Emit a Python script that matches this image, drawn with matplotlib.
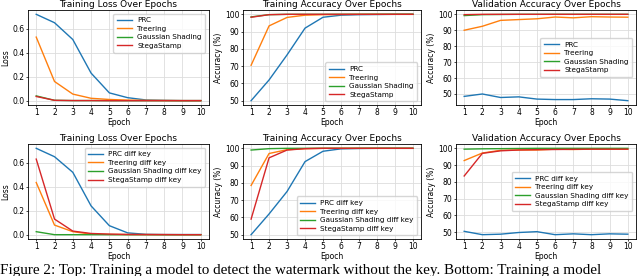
import numpy as np
import matplotlib
matplotlib.use('Agg')
import matplotlib.pyplot as plt

epochs = np.arange(1, 11)
methods = ['PRC', 'Treering', 'Gaussian Shading', 'StegaStamp']
colors = ['#1f77b4', '#ff7f0e', '#2ca02c', '#d62728']

# top row: trained without the key
loss_top = [
    [0.72, 0.65, 0.51, 0.23, 0.065, 0.025, 0.006, 0.003, 0.001, 0.001],
    [0.53, 0.16, 0.055, 0.02, 0.01, 0.005, 0.003, 0.002, 0.001, 0.001],
    [0.04, 0.003, 0.001, 0.001, 0.0, 0.0, 0.0, 0.0, 0.0, 0.0],
    [0.035, 0.003, 0.001, 0.001, 0.0, 0.0, 0.0, 0.0, 0.0, 0.0],
]
tacc_top = [
    [50.0, 62.0, 76.5, 92.0, 98.3, 99.5, 99.8, 99.9, 100.0, 100.0],
    [70.5, 93.3, 98.2, 99.5, 99.8, 99.9, 100.0, 100.0, 100.0, 100.0],
    [98.5, 99.8, 100.0, 100.0, 100.0, 100.0, 100.0, 100.0, 100.0, 100.0],
    [98.3, 99.8, 100.0, 100.0, 100.0, 100.0, 100.0, 100.0, 100.0, 100.0],
]
vacc_top = [
    [48.5, 50.0, 47.8, 48.2, 46.8, 46.5, 46.5, 47.0, 46.8, 45.8],
    [90.0, 92.5, 96.2, 96.7, 97.2, 98.3, 97.8, 98.5, 98.3, 98.2],
    [99.2, 99.8, 99.9, 100.0, 100.0, 100.0, 100.0, 100.0, 100.0, 100.0],
    [99.8, 100.0, 100.0, 100.0, 100.0, 100.0, 100.0, 100.0, 100.0, 100.0],
]

# bottom row: trained with a different key
loss_bot = [
    [0.72, 0.65, 0.52, 0.24, 0.075, 0.015, 0.003, 0.001, 0.001, 0.001],
    [0.435, 0.08, 0.025, 0.005, 0.002, 0.001, 0.001, 0.0, 0.0, 0.0],
    [0.025, 0.0, 0.0, 0.0, 0.0, 0.0, 0.0, 0.0, 0.0, 0.0],
    [0.63, 0.13, 0.03, 0.01, 0.005, 0.002, 0.001, 0.001, 0.0, 0.0],
]
tacc_bot = [
    [50.0, 62.0, 75.0, 92.3, 98.3, 99.7, 99.9, 100.0, 100.0, 100.0],
    [78.5, 97.0, 99.2, 99.8, 100.0, 100.0, 100.0, 100.0, 100.0, 100.0],
    [99.0, 99.8, 100.0, 100.0, 100.0, 100.0, 100.0, 100.0, 100.0, 100.0],
    [59.0, 94.5, 99.0, 99.8, 100.0, 100.0, 100.0, 100.0, 100.0, 100.0],
]
vacc_bot = [
    [50.5, 48.5, 48.8, 49.8, 50.3, 48.5, 49.0, 48.5, 49.0, 48.8],
    [92.7, 97.2, 98.8, 99.0, 99.0, 99.5, 99.3, 99.5, 99.5, 99.5],
    [99.5, 99.7, 99.8, 99.9, 100.0, 100.0, 100.0, 100.0, 100.0, 100.0],
    [83.5, 97.0, 98.5, 99.0, 99.2, 99.3, 99.4, 99.5, 99.5, 99.5],
]

plt.rcParams['font.family'] = 'DejaVu Sans'
plt.rcParams['font.size'] = 5.5

W, H = 640, 276
fig = plt.figure(figsize=(W / 100, H / 100), dpi=100)


def px_axes(x0, y0, x1, y1):
    return fig.add_axes([x0 / W, 1 - y1 / H, (x1 - x0) / W, (y1 - y0) / H])


cols = [(28, 209), (243, 421), (456, 636)]
rows = [(10, 105), (144, 239)]

panels = [
    (loss_top, 'Training Loss Over Epochs', 'Loss', 'upper right', ''),
    (tacc_top, 'Training Accuracy Over Epochs', 'Accuracy (%)', 'lower right', ''),
    (vacc_top, 'Validation Accuracy Over Epochs', 'Accuracy (%)', 'center right', ''),
    (loss_bot, 'Training Loss Over Epochs', 'Loss', 'upper right', ' diff key'),
    (tacc_bot, 'Training Accuracy Over Epochs', 'Accuracy (%)', 'lower right', ' diff key'),
    (vacc_bot, 'Validation Accuracy Over Epochs', 'Accuracy (%)', 'center right', ' diff key'),
]

for k, (data, title, ylab, loc, suffix) in enumerate(panels):
    r, c = divmod(k, 3)
    ax = px_axes(cols[c][0], rows[r][0], cols[c][1], rows[r][1])
    for i, m in enumerate(methods):
        ax.plot(epochs, data[i], color=colors[i], lw=1.0, label=m + suffix)
    ax.set_title(title, fontsize=6.5, pad=2.5)
    ax.set_xlabel('Epoch', fontsize=5.5, labelpad=0.5)
    ax.set_ylabel(ylab, fontsize=5.5, labelpad=1.5)
    ax.set_xticks(epochs)
    ax.tick_params(labelsize=5.5, length=1.5, pad=1.0, width=0.5)
    ax.grid(True, color='#dddddd', lw=0.6)
    for s in ax.spines.values():
        s.set_linewidth(0.6)
    if ylab == 'Loss':
        ax.set_yticks([0.0, 0.2, 0.4, 0.6])
    else:
        ax.set_yticks([50, 60, 70, 80, 90, 100])
    ax.legend(loc=loc, fontsize=5.2, framealpha=0.8, handlelength=2.0,
              borderpad=0.5, labelspacing=0.35)

fig.text(0.0, 2 / H,
         'Figure 2: Top: Training a model to detect the watermark without the key. Bottom: Training a model',
         fontsize=10.9, family='Liberation Serif', ha='left', va='baseline')

fig.savefig('out.png', dpi=100)
